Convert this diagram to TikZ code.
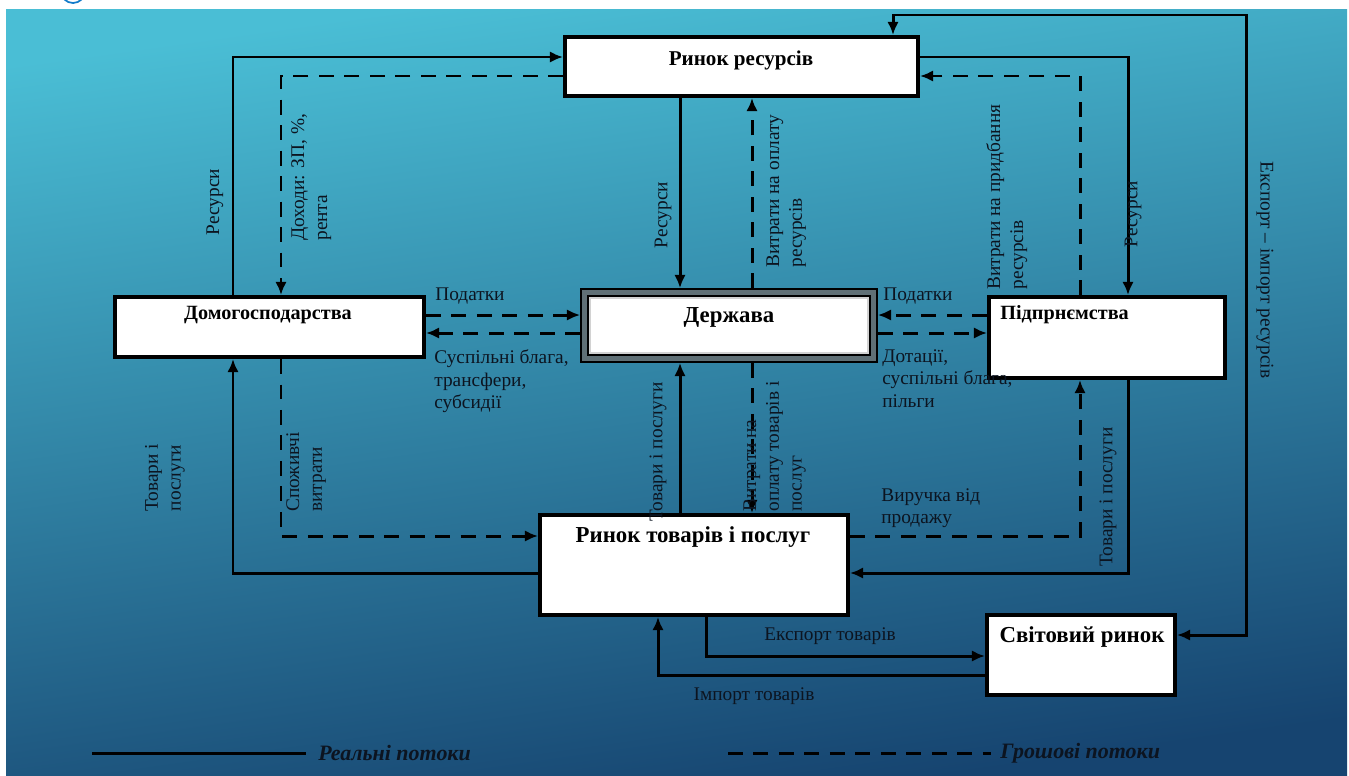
\documentclass[tikz,border=0pt]{standalone}
\usepackage{fontspec}
\setmainfont{Liberation Serif}
\usetikzlibrary{arrows.meta,positioning,calc}

\definecolor{bgtop}{RGB}{74,190,213}
\definecolor{bgmid}{RGB}{46,138,180}
\definecolor{bgbot}{RGB}{22,68,112}
\definecolor{ink}{RGB}{12,20,32}
\definecolor{govgray}{RGB}{96,112,118}

\tikzset{
  >={Latex[length=7.5pt,width=6.5pt]},
  box/.style={draw=black, line width=2.3pt, fill=white, inner sep=0pt},
  govbox/.style={draw=black, line width=1pt, double=govgray, double distance=3pt, fill=white, inner sep=0pt, outer sep=2.5pt},
  boxtext/.style={font=\fontsize{12}{14}\selectfont\bfseries, text=black, inner sep=0pt},
  lbl/.style={font=\fontsize{11}{13}\selectfont, text=ink, inner sep=0pt, align=left},
  real/.style={draw=black, line width=1.7pt, ->},
  money/.style={real, dash pattern=on 8.5pt off 6pt},
  legend/.style={font=\fontsize{12.5}{15}\selectfont\bfseries\itshape, text=ink, anchor=west, inner sep=0pt}
}

\begin{document}
\begin{tikzpicture}[x=0.02cm,y=-0.02cm]
\useasboundingbox (0,0) rectangle (1349,775);
\fill[white] (0,0) rectangle (1349,775);
\shade[top color=bgtop, middle color=bgmid, bottom color=bgbot, shading angle=8] (6,9) rectangle (1347,775);
\draw[cyan!60!blue, line width=1pt] (73,-9) circle (12);

% boxes
\node[box, minimum width=7.06cm, minimum height=1.18cm] (res) at (741.5,66.5) {};
\node[box, minimum width=6.18cm, minimum height=1.2cm] (dom) at (269.5,327) {};
\node[govbox, minimum width=5.78cm, minimum height=1.32cm] (gov) at (729,325.5) {};
\draw[gray!35, line width=1pt] ([shift={(5.5pt,-5.5pt)}]gov.north west) rectangle ([shift={(-5.5pt,5.5pt)}]gov.south east);
\node[box, minimum width=4.72cm, minimum height=1.62cm] (firm) at (1107,337.5) {};
\node[box, minimum width=6.16cm, minimum height=2cm] (goods) at (694,565) {};
\node[box, minimum width=3.76cm, minimum height=1.6cm] (world) at (1081,655) {};

\node[boxtext] (restext) at (741,60) {Ринок ресурсів};
\node[boxtext, font=\fontsize{11.5}{14}\selectfont\bfseries] (domtext) at (268,315) {Домогосподарства};
\node[boxtext, font=\fontsize{13}{15}\selectfont\bfseries] (govtext) at (729,317) {Держава};
\node[boxtext, font=\fontsize{11.5}{14}\selectfont\bfseries, anchor=west] (firmtext) at (1000,315) {Підпрнємства};
\node[boxtext, font=\fontsize{13}{15}\selectfont\bfseries] (goodstext) at (693,537) {Ринок товарів і послуг};
\node[boxtext, font=\fontsize{13}{15}\selectfont\bfseries] (worldtext) at (1082,637) {Світовий ринок};

% resource market
\draw[real] (dom.north -| 233,0) |- (res.west |- 0,57);
\draw[money] (res.west |- 0,76) -| (dom.north -| 281,0);
\draw[real] (res.south -| 680,0) -- (gov.north -| 680,0);
\draw[money] (gov.north -| 752,0) -- (res.south -| 752,0);
\draw[real] (res.east |- 0,57) -| (firm.north -| 1128,0);
\draw[money] (firm.north -| 1080,0) |- (res.east |- 0,76);
\draw[real, <->] (res.north -| 893,0) |- (1246,15) |- (world.east |- 0,635);

% government
\draw[money] (dom.east |- 0,315) -- (gov.west |- 0,315);
\draw[money] (gov.west |- 0,333) -- (dom.east |- 0,333);
\draw[money] (firm.west |- 0,315) -- (gov.east |- 0,315);
\draw[money] (gov.east |- 0,333) -- (firm.west |- 0,333);

% goods market
\draw[real] (goods.west |- 0,573) -| (dom.south -| 233,0);
\draw[money] (dom.south -| 281,0) |- (goods.west |- 0,536);
\draw[real] (goods.north -| 680,0) -- (gov.south -| 680,0);
\draw[money] (gov.south -| 752,0) -- (goods.north -| 752,0);
\draw[money] (goods.east |- 0,536) -| (firm.south -| 1080,0);
\draw[real] (firm.south -| 1128,0) |- (goods.east |- 0,573);
\draw[real] (goods.south -| 706,0) |- (world.west |- 0,656);
\draw[real] (world.west |- 0,675) -| (goods.south -| 658,0);

% labels
\node[lbl, rotate=90] (l1) at (215,202) {Ресурси};
\node[lbl, rotate=90, anchor=north west] (l2) at (291,241) {Доходи: ЗП, \%,\\рента};
\node[lbl, rotate=90] (l3) at (663,215) {Ресурси};
\node[lbl, rotate=90, anchor=north west] (l4) at (766,268) {Витрати на оплату\\ресурсів};
\node[lbl, rotate=90, anchor=north west] (l5) at (986,290) {Витрати на придбання\\ресурсів};
\node[lbl, rotate=90] (l6) at (1133,214) {Ресурси};
\node[lbl, rotate=-90] (l7) at (1265,270) {Експорт – імпорт ресурсів};
\node[lbl, anchor=west] (l8) at (435,296) {Податки};
\node[lbl, anchor=north west] (l9) at (434,349) {Суспільні блага,\\трансфери,\\субсидії};
\node[lbl, anchor=west] (l10) at (883,296) {Податки};
\node[lbl, anchor=north west] (l11) at (882,349) {Дотації,\\суспільні блага,\\пільги};
\node[lbl, rotate=90, align=center] (l12) at (165,478) {Товари і\\послуги};
\node[lbl, rotate=90, anchor=north west] (l13) at (286,512) {Споживчі\\витрати};
\node[lbl, rotate=90] (l14) at (658,452) {Товари і послуги};
\node[lbl, rotate=90, anchor=north west] (l15) at (743,512) {Витрати на\\оплату товарів і\\послуг};
\node[lbl, anchor=north west] (l16) at (881,488) {Виручка від\\продажу};
\node[lbl, rotate=90] (l17) at (1108,497) {Товари і послуги};
\node[lbl] (l18) at (830,636) {Експорт товарів};
\node[lbl] (l19) at (754,696) {Імпорт товарів};

% legend
\node[legend] (lreal) at (318,753) {Реальні потоки};
\node[legend] (lmoney) at (1000,753) {Грошові потоки};
\coordinate (lra) at (92,753);
\coordinate (lma) at (728,753);
\draw[black, line width=1.7pt] (lra) -- ([xshift=-7pt]lreal.west);
\draw[black, line width=1.7pt, dash pattern=on 8.5pt off 6pt] (lma) -- ([xshift=-5pt]lmoney.west);
\end{tikzpicture}
\end{document}
